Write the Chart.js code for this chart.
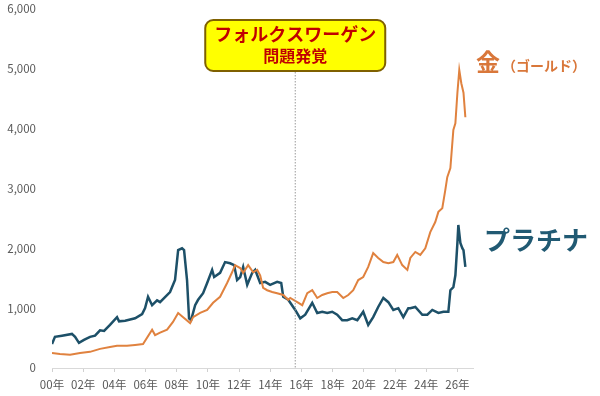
<!DOCTYPE html>
<html>
<head>
<meta charset="utf-8">
<script src="https://cdn.jsdelivr.net/npm/chart.js@4.4.1/dist/chart.umd.min.js"></script>
<style>
  html, body { margin: 0; padding: 0; background: #fff; }
  #wrap { width: 600px; height: 396px; position: relative; }
</style>
</head>
<body>
<div id="wrap"><canvas id="grafico"></canvas></div>
<script>
// years since 2000 (decimal) and price
const platYears = [0.00, 0.19, 0.64, 1.28, 1.48, 1.73, 2.05, 2.44, 2.76, 3.08, 3.34, 3.72, 4.17, 4.30, 4.69, 5.33, 5.78, 5.97, 6.16, 6.42, 6.74, 6.93, 7.57, 7.89, 8.09, 8.34, 8.47, 8.66, 8.79, 8.92, 9.18, 9.37, 9.69, 9.95, 10.27, 10.40, 10.78, 11.10, 11.42, 11.68, 11.87, 12.07, 12.26, 12.52, 12.84, 13.03, 13.35, 13.67, 13.99, 14.44, 14.70, 14.83, 15.15, 15.60, 15.92, 16.24, 16.69, 17.01, 17.33, 17.65, 17.97, 18.29, 18.61, 18.93, 19.26, 19.58, 19.96, 20.28, 20.60, 20.92, 21.25, 21.57, 21.89, 22.21, 22.53, 22.85, 22.98, 23.30, 23.75, 24.07, 24.39, 24.78, 25.10, 25.42, 25.55, 25.74, 25.87, 26.00, 26.06, 26.19, 26.32, 26.39, 26.51];
const platValues = [400, 520, 540, 570, 520, 420, 470, 520, 540, 630, 620, 720, 850, 780, 790, 830, 900, 1000, 1190, 1050, 1130, 1100, 1270, 1470, 1970, 2000, 1970, 1470, 830, 800, 1050, 1140, 1250, 1420, 1640, 1520, 1590, 1770, 1750, 1720, 1470, 1520, 1690, 1390, 1590, 1640, 1420, 1440, 1390, 1440, 1420, 1190, 1140, 970, 830, 890, 1090, 920, 940, 920, 940, 890, 800, 800, 830, 800, 940, 720, 850, 1020, 1170, 1100, 970, 1000, 850, 1000, 1000, 1020, 890, 890, 970, 920, 940, 940, 1300, 1350, 1550, 2090, 2390, 2090, 2000, 1970, 1690];

const goldYears = [0.00, 0.51, 1.16, 1.80, 2.44, 3.08, 3.72, 4.17, 4.81, 5.33, 5.84, 6.42, 6.61, 6.93, 7.38, 7.76, 8.09, 8.41, 8.86, 9.05, 9.50, 9.95, 10.33, 10.78, 11.23, 11.55, 11.74, 12.07, 12.26, 12.58, 12.90, 13.16, 13.35, 13.54, 13.80, 14.12, 14.44, 14.83, 15.15, 15.28, 15.73, 16.05, 16.37, 16.69, 17.01, 17.33, 17.65, 17.97, 18.29, 18.68, 19.00, 19.32, 19.64, 19.96, 20.28, 20.60, 20.92, 21.25, 21.57, 21.89, 22.14, 22.46, 22.79, 22.98, 23.30, 23.62, 23.94, 24.26, 24.58, 24.78, 25.03, 25.22, 25.35, 25.55, 25.74, 25.87, 26.00, 26.12, 26.25, 26.39, 26.51];
const goldValues = [250, 235, 220, 250, 270, 320, 350, 370, 370, 385, 400, 640, 550, 590, 640, 770, 920, 850, 750, 850, 920, 970, 1090, 1190, 1420, 1600, 1720, 1670, 1590, 1720, 1600, 1640, 1550, 1340, 1300, 1270, 1250, 1220, 1140, 1170, 1100, 1050, 1250, 1300, 1170, 1220, 1250, 1270, 1270, 1170, 1220, 1300, 1470, 1520, 1690, 1920, 1840, 1770, 1750, 1770, 1890, 1720, 1640, 1840, 1940, 1890, 2000, 2270, 2440, 2610, 2670, 2970, 3190, 3340, 3980, 4090, 4600, 4980, 4760, 4600, 4190];

const yTicks = [0, 1000, 2000, 3000, 4000, 5000, 6000];
const xTickYears = [0, 2, 4, 6, 8, 10, 12, 14, 16, 18, 20, 22, 24, 26];
const vwYear = 15.6; // 2015年9月

const FONT = '"Noto Sans CJK JP", "Noto Sans", sans-serif';

const anotacoes = {
  id: 'anotacoes',
  afterDraw(chart) {
    const ctx = chart.ctx;
    const area = chart.chartArea;
    const x = chart.scales.x.getPixelForValue(vwYear);

    // linha pontilhada
    ctx.save();
    ctx.strokeStyle = '#9a9a9a';
    ctx.lineWidth = 1;
    ctx.setLineDash([1.5, 1.5]);
    ctx.beginPath();
    ctx.moveTo(x, 72);
    ctx.lineTo(x, area.bottom);
    ctx.stroke();
    ctx.setLineDash([]);

    // caixa amarela
    ctx.beginPath();
    ctx.roundRect(x - 90, 20, 180, 51, 8);
    ctx.fillStyle = '#ffff00';
    ctx.fill();
    ctx.strokeStyle = '#7f6000';
    ctx.lineWidth = 2;
    ctx.stroke();

    ctx.fillStyle = '#c00000';
    ctx.textAlign = 'center';
    ctx.textBaseline = 'middle';
    ctx.font = 'bold 18px ' + FONT;
    ctx.fillText('フォルクスワーゲン', x, 34);
    ctx.font = 'bold 16px ' + FONT;
    ctx.fillText('問題発覚', x, 56);

    // rótulos das séries
    ctx.textAlign = 'left';
    ctx.fillStyle = '#d9773a';
    ctx.font = 'bold 24px ' + FONT;
    ctx.fillText('金', 476, 62);
    ctx.font = 'bold 14px ' + FONT;
    ctx.fillText('（ゴールド）', 502, 66);

    ctx.fillStyle = '#215a73';
    ctx.font = 'bold 26px ' + FONT;
    ctx.fillText('プラチナ', 484, 240);
    ctx.restore();
  }
};

const ctx = document.getElementById('grafico').getContext('2d');
const chart = new Chart(ctx, {
  type: 'line',
  data: {
    datasets: [
      {
        label: '金（ゴールド）',
        data: goldYears.map((x, i) => ({ x: x, y: goldValues[i] })),
        borderColor: '#e0823f',
        borderWidth: 2,
        pointRadius: 0,
        fill: false,
        tension: 0
      },
      {
        label: 'プラチナ',
        data: platYears.map((x, i) => ({ x: x, y: platValues[i] })),
        borderColor: '#1d5068',
        borderWidth: 2.5,
        pointRadius: 0,
        fill: false,
        tension: 0
      }
    ]
  },
  options: {
    animation: false,
    responsive: true,
    maintainAspectRatio: false,
    layout: { padding: { left: 0, right: 127, top: 9, bottom: 0 } },
    scales: {
      x: {
        type: 'linear',
        min: 0,
        max: 27,
        afterFit(scale) { scale.height = 28; },
        afterBuildTicks(scale) { scale.ticks = xTickYears.map(v => ({ value: v })); },
        ticks: {
          includeBounds: false,
          color: '#595959',
          font: { family: FONT, size: 11.5 },
          padding: 6,
          maxRotation: 0,
          autoSkip: false,
          callback: v => String(v).padStart(2, '0') + '年'
        },
        grid: { drawOnChartArea: false, color: '#d0d0d0', tickLength: 4 },
        border: { color: '#d9d9d9', width: 1 }
      },
      y: {
        min: 0,
        max: 6000,
        afterFit(scale) {
          scale.width = 52;
          scale.paddingTop = 0;
          scale.paddingBottom = 0;
        },
        afterBuildTicks(scale) { scale.ticks = yTicks.map(v => ({ value: v })); },
        ticks: {
          color: '#595959',
          font: { family: FONT, size: 11.5 },
          padding: 16,
          callback: v => v.toLocaleString('en-US')
        },
        grid: { display: false, drawTicks: false },
        border: { display: false }
      }
    },
    plugins: {
      legend: { display: false },
      tooltip: { enabled: false }
    }
  },
  plugins: [anotacoes]
});
</script>
</body>
</html>
